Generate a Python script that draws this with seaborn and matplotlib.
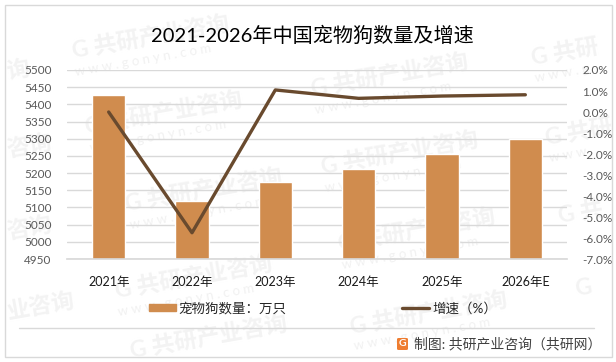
import matplotlib
matplotlib.use("Agg")
import matplotlib.pyplot as plt
import matplotlib.patches as mpatches
import pandas as pd
import seaborn as sns

# Data
years = ["2021年", "2022年", "2023年", "2024年", "2025年", "2026年E"]
dogs = [5427, 5119, 5174, 5212, 5256, 5299]
growth = [0.0, -5.75, 1.05, 0.65, 0.76, 0.82]
left_ticks = [4950, 5000, 5050, 5100, 5150, 5200, 5250, 5300, 5350, 5400, 5450, 5500]
right_ticks = [-7, -6, -5, -4, -3, -2, -1, 0, 1, 2]

# Watermarks: x, y in pixels from the top left, and the part of the text that fits
full = "G 共研产业咨询"
site = "w w w . g o n y n . c o m"
marks = [(72, 52, full), (85, 128, full), (311, 90, full), (321, 168, full), (125, 205, full),
         (115, 292, full), (338, 245, full), (350, 328, full), (130, 352, full),
         (531, 58, "G 共研"), (545, 138, "G 共研"), (558, 216, "G 共"), (575, 290, "G"),
         (7, 72, "询"), (7, 150, "咨询"), (7, 232, "咨询"), (7, 312, "业咨询")]
urls = [(75, 72, site), (90, 148, site), (315, 110, site), (325, 188, site), (130, 225, site),
        (118, 312, site), (342, 265, site), (354, 346, site), (535, 78, "w w w . g"), (549, 158, "w w w")]

W, H = 616, 362
df = pd.DataFrame({"year": years, "dogs": dogs, "growth": growth})

sns.set_theme(style="white")
plt.rcParams["font.family"] = ["Lato", "Noto Sans CJK SC", "DejaVu Sans"]

fig = plt.figure(figsize=(W / 100, H / 100), dpi=100, facecolor="white")

# background layer in pixel coordinates: frame and watermarks
bg = fig.add_axes([0, 0, 1, 1], zorder=-1)
bg.set_xlim(0, W)
bg.set_ylim(H, 0)
bg.axis("off")
bg.add_patch(mpatches.Rectangle((4.5, 4.5), 607, 352, fill=False, ec="#d9d9d9", lw=1.0))
for x, y, label in marks:
    bg.text(x, y, label, fontsize=16.5, fontweight="bold", color="#f3f3f3", rotation=10,
            ha="left", va="center", rotation_mode="anchor", clip_on=True)
for x, y, label in urls:
    bg.text(x, y, label, fontsize=9.5, color="#f1f1f1", rotation=10,
            ha="left", va="center", rotation_mode="anchor", clip_on=True)

ax = fig.add_axes([67 / W, 1 - 259 / H, 500 / W, 189 / H])
ax.patch.set_alpha(0)
sns.barplot(data=df, x="year", y="dogs", color="#d08c4e", saturation=1, width=0.4, ax=ax, zorder=2)
ax.set_ylim(4950, 5500)
ax.set_yticks(left_ticks)
ax.set_xlim(-0.5, 5.5)
ax.set_xlabel("")
ax.set_ylabel("")
ax.yaxis.grid(True, color="#d9d9d9", lw=1)
ax.set_axisbelow(True)
ax.tick_params(axis="y", length=0, labelsize=8.5, labelcolor="#595959", pad=11)
ax.tick_params(axis="x", length=0, labelsize=9, labelcolor="#1a1a1a", pad=12)
sns.despine(ax=ax, left=True, right=True, top=True, bottom=False)
ax.spines["bottom"].set_color("#d9d9d9")

ax2 = ax.twinx()
sns.lineplot(data=df, x="year", y="growth", color="#694a2e", lw=2.4, ax=ax2, zorder=3, solid_capstyle="round")
ax2.set_ylim(-7, 2)
ax2.set_yticks(right_ticks)
ax2.set_yticklabels([f"{t:.1f}%" for t in right_ticks])
ax2.set_ylabel("")
ax2.tick_params(axis="y", length=0, labelsize=8.5, labelcolor="#595959", pad=11)
ax2.grid(False)
sns.despine(ax=ax2, left=True, right=True, top=True, bottom=True)

fig.text(312.5 / W, 1 - 35 / H, "2021-2026年中国宠物狗数量及增速", fontsize=14.5, color="black", ha="center", va="center")

# legend, placed by hand like the original
leg_bar = mpatches.Patch(color="#d08c4e", label="宠物狗数量：万只")
leg_line = plt.Line2D([], [], color="#694a2e", lw=2.4, label="增速（%）")
fig.legend(handles=[leg_bar, leg_line], loc="center", bbox_to_anchor=(323 / W, 1 - 308 / H), ncol=2, frameon=False,
           fontsize=9.7, handlelength=2.0, handleheight=0.5, columnspacing=8.6, handletextpad=0.2,
           labelcolor="#262626")

# rule above the source line
fig.add_artist(plt.Line2D([19 / W, 594 / W], [1 - 328 / H, 1 - 328 / H], color="#d9d9d9", lw=1))

# small logo and source text
fig.add_artist(mpatches.FancyBboxPatch((397 / W, 1 - 350 / H), 11 / W, 12 / H, boxstyle="round,pad=0,rounding_size=0.003",
                                       transform=fig.transFigure, color="#ef7d31", lw=0))
fig.text(402.5 / W, 1 - 344 / H, "G", fontsize=7.5, fontweight="bold", color="white", ha="center", va="center")
fig.text(414 / W, 1 - 344 / H, "制图: 共研产业咨询（共研网）", fontsize=10, color="#404040", ha="left", va="center")

fig.savefig("out.png", dpi=100)
